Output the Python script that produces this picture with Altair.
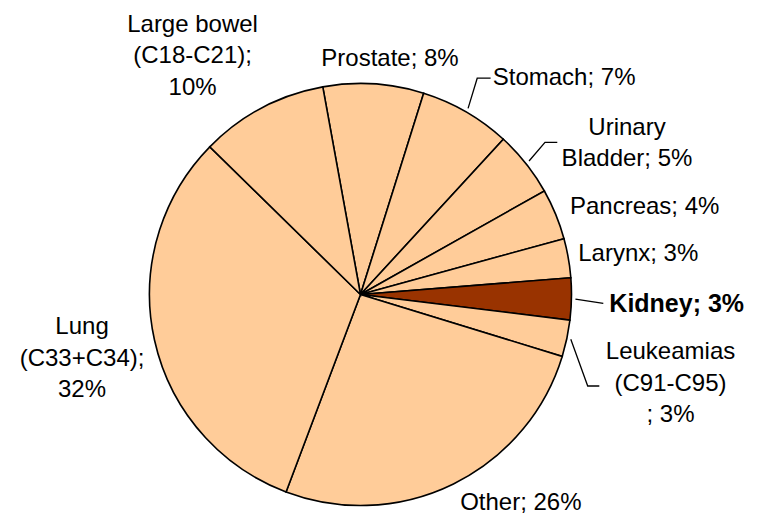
import math
import altair as alt
import pandas as pd

# ---- data ----
categories = ["Prostate", "Stomach", "Urinary Bladder", "Pancreas", "Larynx",
              "Kidney", "Leukeamias (C91-C95)", "Other", "Lung (C33+C34)",
              "Large bowel (C18-C21)"]
shares = [7.7, 7.0, 5.0, 3.9, 3.0, 3.2, 2.8, 26.0, 31.6, 9.8]
labels = ["Prostate; 8%", "Stomach; 7%", "Urinary\nBladder; 5%", "Pancreas; 4%",
          "Larynx; 3%", "Kidney; 3%", "Leukeamias\n(C91-C95)\n; 3%", "Other; 26%",
          "Lung\n(C33+C34);\n32%", "Large bowel\n(C18-C21);\n10%"]
highlight = "Kidney"

# ---- layout / style ----
CX, CY, R = 352.5, 286.5, 211
START = math.radians(-10.3)
label_nudge_deg = [3.55, 13.08, 8.68, 5.01, 1.5, 0.23, 3.91, -11.6, -0.38, -7.1]
label_radius = [238.3, 298, 306.8, 297.7, 280.8, 316.3, 322.4, 262.0, 285.6, 292.5]
leader_cats = ["Stomach", "Urinary Bladder", "Kidney", "Leukeamias (C91-C95)"]
leader_end_off = [(-73.5, 1.3), (-69.7, -0.2), (-73.4, 0.8), (-71.2, 3.0)]
leader_hseg = [13.4, 12.3, 0.0, 11.6]
FILL = "#FFCC99"
HIGHLIGHT_FILL = "#993300"
FONT = "Liberation Sans"
FS = 24
LH = 31.5

total = sum(shares)
df = pd.DataFrame({"cat": categories, "value": shares, "label": labels,
                   "idx": list(range(len(categories)))})
cum = df["value"].cumsum() - df["value"] / 2
df["mid"] = START + 2 * math.pi * cum / total
df["lang"] = df["mid"] + [math.radians(v) for v in label_nudge_deg]
df["lr"] = label_radius
df["lx"] = CX + df["lr"] * df["lang"].apply(math.sin)
df["ly"] = CY - df["lr"] * df["lang"].apply(math.cos)
# first line sits at the anchor: shift so the block is centred
df["nl"] = df["label"].str.count("\n")
df["ty"] = df["ly"] - df["nl"] * LH / 2

rows = []
for c, off, h in zip(leader_cats, leader_end_off, leader_hseg):
    r = df[df["cat"] == c].iloc[0]
    sx = CX + (R + 4) * math.sin(r["mid"])
    sy = CY - (R + 4) * math.cos(r["mid"])
    ex = r["lx"] + off[0]
    ey = r["ly"] + off[1]
    rows.append({"cat": c, "k": 0, "x": sx, "y": sy})
    rows.append({"cat": c, "k": 1, "x": ex - h, "y": ey})
    rows.append({"cat": c, "k": 2, "x": ex, "y": ey})
leaders = pd.DataFrame(rows)

colors = [HIGHLIGHT_FILL if c == highlight else FILL for c in categories]

pie = alt.Chart(df).mark_arc(outerRadius=R, stroke="black", strokeWidth=1.6).encode(
    theta=alt.Theta("value:Q", stack=True,
                    scale=alt.Scale(domain=[0, total], range=[START, START + 2 * math.pi])),
    color=alt.Color("cat:N", scale=alt.Scale(domain=categories, range=colors), legend=None),
    order=alt.Order("idx:Q"),
    x=alt.value(CX),
    y=alt.value(CY),
)

lines = alt.Chart(leaders).mark_line(color="black", strokeWidth=1.3).encode(
    x=alt.X("x:Q", scale=None, axis=None),
    y=alt.Y("y:Q", scale=None, axis=None),
    detail="cat:N",
    order="k:Q",
)

txt = alt.Chart(df).transform_filter(alt.datum.cat != highlight).mark_text(
    font=FONT, fontSize=FS, color="black", align="center", baseline="middle",
    lineBreak="\n", lineHeight=LH, dy=1,
).encode(
    x=alt.X("lx:Q", scale=None, axis=None),
    y=alt.Y("ty:Q", scale=None, axis=None),
    text="label:N",
)

txt_b = alt.Chart(df).transform_filter(alt.datum.cat == highlight).mark_text(
    font=FONT, fontSize=25, fontWeight="bold", color="black", align="center",
    baseline="middle", lineBreak="\n", dy=1,
).encode(
    x=alt.X("lx:Q", scale=None, axis=None),
    y=alt.Y("ty:Q", scale=None, axis=None),
    text="label:N",
)

chart = alt.layer(pie, lines, txt, txt_b).properties(
    width=745, height=508, padding=0,
    autosize=alt.AutoSizeParams(type="none"),
    background="white",
).configure_view(stroke=None)

chart.save("out.html", embed_options={"renderer": "svg", "actions": False})
